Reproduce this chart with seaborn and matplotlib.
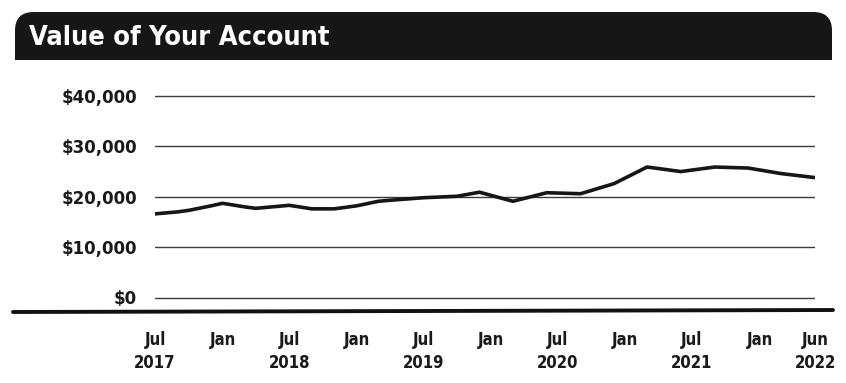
import matplotlib
matplotlib.use("Agg")
import matplotlib.pyplot as plt
from matplotlib.patches import FancyBboxPatch, Rectangle
from matplotlib.lines import Line2D
import seaborn as sns
import pandas as pd

# ---- data ----
start_month = "2017-07-01"
month_offsets = [0, 2, 3, 5, 6, 8, 9, 11, 12, 14, 16, 18, 20, 21, 24, 27, 29,
                 32, 35, 38, 41, 44, 47, 50, 53, 56, 59]
account_values = [16600, 17000, 17300, 18200, 18700, 18000, 17700, 18100, 18300,
                  17600, 17600, 18200, 19100, 19300, 19800, 20100, 20900, 19100,
                  20800, 20600, 22600, 25900, 25000, 25900, 25700, 24600, 23800]
y_ticks = [0, 10000, 20000, 30000, 40000]
y_tick_labels = ["$0", "$10,000", "$20,000", "$30,000", "$40,000"]
x_tick_dates = ["2017-07-01", "2018-01-01", "2018-07-01", "2019-01-01", "2019-07-01",
                "2020-01-01", "2020-07-01", "2021-01-01", "2021-07-01", "2022-01-01",
                "2022-06-01"]
x_tick_labels = ["Jul\n2017", "Jan", "Jul\n2018", "Jan", "Jul\n2019", "Jan",
                 "Jul\n2020", "Jan", "Jul\n2021", "Jan", "Jun\n2022"]
title = "Value of Your Account"

dates = [pd.Timestamp(start_month) + pd.DateOffset(months=m) for m in month_offsets]
df = pd.DataFrame({"date": dates, "value": account_values})

sns.set_theme(style="white")
plt.rcParams["font.family"] = ["DejaVu Sans"]
narrow = ["DejaVu Sans Condensed", "Liberation Sans Narrow", "DejaVu Sans"]

W, H = 846, 383
fig = plt.figure(figsize=(W / 100, H / 100), dpi=100)
fig.patch.set_facecolor("white")

# axes placement (pixel -> figure fraction)
px_per_unit = (297.5 - 96) / 40000
pad = 1500
ymin, ymax = -pad, 40000 + pad
top_px = 96 - pad * px_per_unit
bot_px = 297.5 + pad * px_per_unit
left_px, right_px = 155, 815
ax = fig.add_axes([left_px / W, 1 - bot_px / H, (right_px - left_px) / W, (bot_px - top_px) / H])

sns.lineplot(data=df, x="date", y="value", ax=ax, color="#161616", linewidth=2.6)

ax.set_ylim(ymin, ymax)
ax.set_xlim(pd.Timestamp(x_tick_dates[0]), pd.Timestamp(x_tick_dates[-1]))
ax.set_yticks(y_ticks)
ax.set_yticklabels(y_tick_labels, fontsize=12.0, fontweight="bold", color="#1a1a1a")
ax.set_xticks([pd.Timestamp(d) for d in x_tick_dates])
ax.set_xticklabels(x_tick_labels, fontsize=12, fontweight="bold", color="#1a1a1a",
                   family=narrow, fontstretch="condensed", linespacing=1.35)
ax.tick_params(axis="y", length=0, pad=13)
ax.tick_params(axis="x", length=0, pad=19)
for y in y_ticks:
    ax.axhline(y, color="#3a3a3a", linewidth=1.0, zorder=0)
for s in ax.spines.values():
    s.set_visible(False)
ax.set_xlabel("")
ax.set_ylabel("")
ax.set_facecolor("none")

# thick baseline under the plot
fig.add_artist(Line2D([13 / W, 833 / W], [1 - 312 / H, 1 - 310 / H],
                      transform=fig.transFigure, color="#111111", linewidth=2.8))

# header bar: rounded top corners, square bottom
hdr = FancyBboxPatch((15 / W, 1 - 60 / H), (832 - 15) / W, (60 - 12) / H,
                     boxstyle="round,pad=0,rounding_size=0.022",
                     transform=fig.transFigure, facecolor="#161616",
                     edgecolor="none", mutation_aspect=W / H)
fig.add_artist(hdr)
fig.add_artist(Rectangle((15 / W, 1 - 60 / H), (832 - 15) / W, 25 / H,
                         transform=fig.transFigure, facecolor="#161616", edgecolor="none"))
fig.text(29 / W, 1 - 38 / H, title, color="white", fontsize=19.5, fontweight="bold",
         family=narrow, fontstretch="condensed", va="center", ha="left")

fig.savefig("out.png", dpi=100, facecolor="white")
